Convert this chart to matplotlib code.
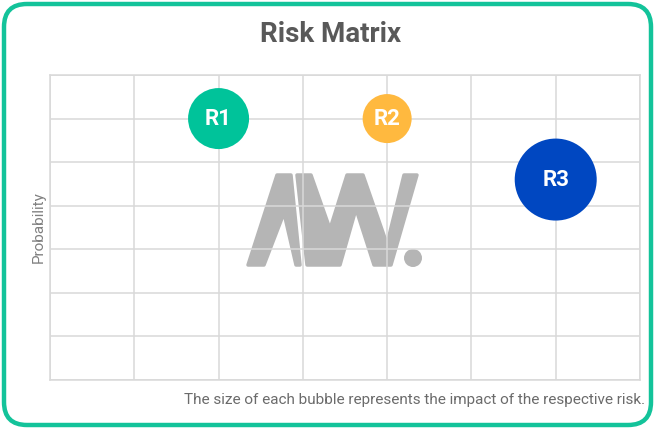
import matplotlib
matplotlib.use("Agg")
import matplotlib.pyplot as plt
from matplotlib.patches import FancyBboxPatch, Polygon, Circle
from matplotlib.transforms import Affine2D

# risk bubbles
labels = ["R1", "R2", "R3"]
impact = [2, 4, 6]
probability = [6, 6, 4.6]
bubble_px = [61, 49, 82]          # bubble diameter in pixels
colors = ["#00c39a", "#ffb93f", "#0047c1"]

title = "Risk Matrix"
ylabel = "Probability"
note = "The size of each bubble represents the impact of the respective risk."

W, H = 655, 429
plt.rcParams['font.family'] = ['Roboto', 'DejaVu Sans']

fig = plt.figure(figsize=(W / 100, H / 100), dpi=100)
ax = fig.add_axes([50 / W, 1 - 380 / H, 590 / W, 305 / H])

grid_c = "#d9d9d9"
ax.set_xlim(0, 7)
ax.set_ylim(0, 7)
ax.set_xticks(range(8))
ax.set_yticks(range(8))
ax.tick_params(length=0, labelbottom=False, labelleft=False)
ax.grid(True, color=grid_c, linewidth=1.1)
ax.set_axisbelow(False)
for s in ax.spines.values():
    s.set_color(grid_c)
    s.set_linewidth(1.1)

sizes = [(d * 0.72) ** 2 for d in bubble_px]
ax.scatter(impact, probability, s=sizes, c=colors, linewidths=0, zorder=3)
for lab, x, y in zip(labels, impact, probability):
    ax.text(x, y, lab, ha="center", va="center", color="white",
            fontsize=16, fontweight="bold", zorder=4)

ax.set_ylabel(ylabel, color="#808080", fontsize=11, labelpad=3)

# watermark logo, drawn in pixel coords (y from top)
px = Affine2D().scale(1 / W, -1 / H).translate(0, 1) + fig.transFigure
logo_c = "#b5b5b5"
a_shape = [(248, 265), (264, 265), (284, 213), (296, 265), (300, 265),
           (291, 175), (277, 175)]
w_shape = [(297, 175), (311, 175), (330, 229), (347, 175), (363, 175),
           (387, 244), (404, 175), (417, 175), (391, 265), (374, 265),
           (356, 209), (340, 265), (307, 265)]
for pts in (a_shape, w_shape):
    ax.add_patch(Polygon(pts, closed=True, facecolor=logo_c, edgecolor=logo_c,
                         linewidth=2.5, joinstyle="round", transform=px,
                         clip_on=False, zorder=1))
ax.add_patch(Circle((413, 258), 9, facecolor=logo_c, edgecolor="none",
                    transform=px, clip_on=False, zorder=1))

fig.text(331 / W, 1 - 35 / H, title, ha="center", va="center",
         fontsize=20, fontweight="bold", color="#595959")
fig.text(645 / W, 1 - 400 / H, note, ha="right", va="center",
         fontsize=11, color="#6b6b6b")

# rounded green frame
frame = FancyBboxPatch((4 / W, 4 / H), (W - 8) / W, (H - 8) / H,
                       boxstyle="round,pad=0,rounding_size=0.035",
                       transform=fig.transFigure, facecolor="none",
                       edgecolor="#13c39a", linewidth=3.2,
                       mutation_aspect=W / H)
fig.patches.append(frame)

fig.savefig("out.png", dpi=100)
